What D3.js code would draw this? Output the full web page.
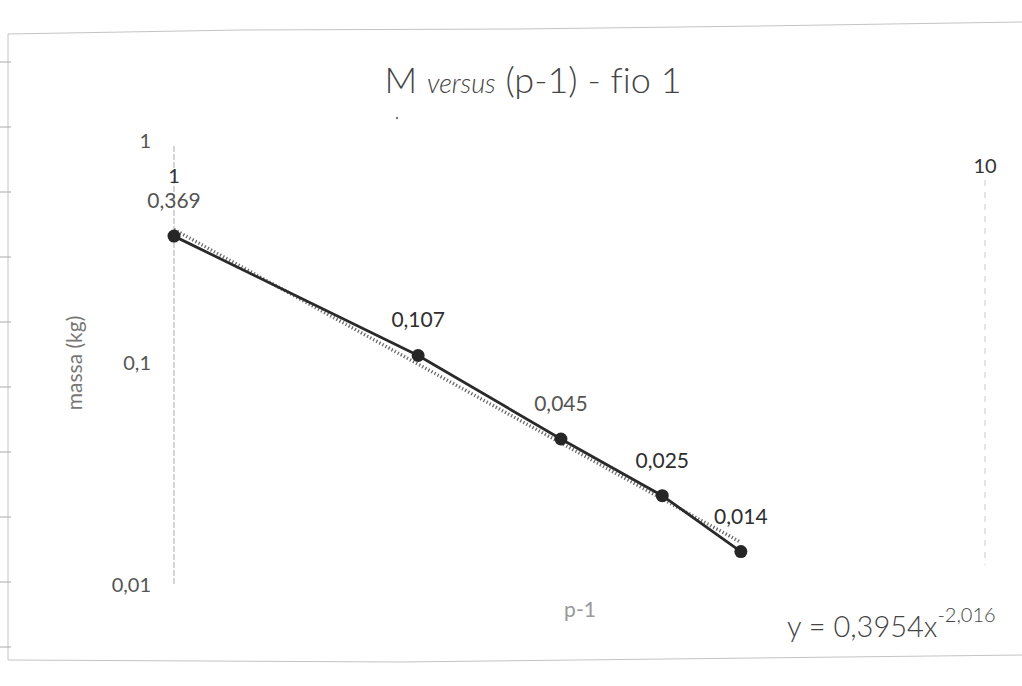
<!DOCTYPE html>
<html>
<head>
<meta charset="utf-8">
<script src="https://cdn.jsdelivr.net/npm/d3@7"></script>
<style>
  html, body { margin: 0; padding: 0; background: #fff; }
  svg { display: block; }
  text { font-family: Lato, "Open Sans", sans-serif; font-variant-ligatures: none; }
</style>
</head>
<body>
<svg id="chart" width="1022" height="686"></svg>
<script>
// p-1 values and measured mass (kg), fio 1
const pMinus1 = [1, 2, 3, 4, 5];
const massa = [0.369, 0.107, 0.045, 0.025, 0.014];
const massaLabels = ["0,369", "0,107", "0,045", "0,025", "0,014"];

// power-law trendline y = a * x^b
const trendA = 0.3954;
const trendB = -2.016;

const xTicks = [1, 10];
const xTickLabels = ["1", "10"];
const yTicks = [1, 0.1, 0.01];
const yTickLabels = ["1", "0,1", "0,01"];

const svg = d3.select("#chart");

const x = d3.scaleLog().domain([1, 10]).range([174, 985]);
const y = d3.scaleLog().domain([0.01, 1]).range([584, 140]);

// outer frame of the chart area
const frame = svg.append("g").attr("stroke", "#c4c4c4").attr("fill", "none");
frame.append("path").attr("d", "M8,34 L240,30 L520,29 L760,26 L1022,22");
frame.append("line").attr("x1", 8).attr("y1", 34).attr("x2", 8).attr("y2", 660);
frame.append("path").attr("d", "M8,660 L400,662 L1022,655");
d3.range(62, 660, 65).forEach(t => {
  frame.append("line").attr("x1", 0).attr("x2", 11).attr("y1", t).attr("y2", t).attr("stroke", "#aaa");
});

// vertical gridlines at x = 1 and x = 10
svg.append("line")
  .attr("x1", x(1)).attr("x2", x(1)).attr("y1", 146).attr("y2", 586)
  .attr("stroke", "#b8b8b8").attr("stroke-width", 1.2).attr("stroke-dasharray", "6,2");
svg.append("line")
  .attr("x1", x(10)).attr("x2", x(10)).attr("y1", 180).attr("y2", 565)
  .attr("stroke", "#d4d4d4").attr("stroke-width", 1.2).attr("stroke-dasharray", "6,6");

// title
const title = svg.append("text")
  .attr("x", 533).attr("y", 93).attr("text-anchor", "middle")
  .attr("fill", "#444").attr("font-size", 36).attr("font-weight", 300);
title.append("tspan").text("M ");
title.append("tspan").attr("font-style", "italic").attr("font-size", 27).text("versus");
title.append("tspan").text(" (p-1) - fio 1");
svg.append("circle").attr("cx", 397).attr("cy", 118).attr("r", 1.2).attr("fill", "#777");

// y tick labels
svg.append("g").selectAll("text").data(yTicks).join("text")
  .attr("x", 151).attr("y", d => y(d) + 8).attr("text-anchor", "end")
  .attr("font-size", 20).attr("fill", "#555")
  .text((d, i) => yTickLabels[i]);

// x tick labels
svg.append("g").selectAll("text").data(xTicks).join("text")
  .attr("x", d => x(d)).attr("y", (d, i) => i === 0 ? 183 : 173)
  .attr("text-anchor", "middle")
  .attr("font-size", 20).attr("fill", "#333")
  .text((d, i) => xTickLabels[i]);

// axis titles
svg.append("text")
  .attr("transform", "translate(82,363) rotate(-90)")
  .attr("text-anchor", "middle").attr("font-size", 21).attr("fill", "#777")
  .text("massa (kg)");
svg.append("text")
  .attr("x", 580).attr("y", 617).attr("text-anchor", "middle")
  .attr("font-size", 21).attr("fill", "#999")
  .text("p-1");

// trendline (dotted)
const trendX = d3.range(0, 1.0001, 0.01).map(t => Math.pow(5, t));
const trendPts = trendX.map(v => [v, trendA * Math.pow(v, trendB)]);
svg.append("path")
  .datum(trendPts)
  .attr("fill", "none").attr("stroke", "#6a6a6a").attr("stroke-width", 3.4)
  .attr("stroke-dasharray", "1.3,2.2")
  .attr("d", d3.line().x(d => x(d[0])).y(d => y(d[1])));

// data line
const pts = pMinus1.map((v, i) => [v, massa[i]]);
svg.append("path")
  .datum(pts)
  .attr("fill", "none").attr("stroke", "#2a2a2a").attr("stroke-width", 2.8)
  .attr("d", d3.line().x(d => x(d[0])).y(d => y(d[1])));

// markers
svg.append("g").selectAll("circle").data(pts).join("circle")
  .attr("cx", d => x(d[0])).attr("cy", d => y(d[1])).attr("r", 6.5)
  .attr("fill", "#262626");

// data labels
svg.append("g").selectAll("text").data(pts).join("text")
  .attr("x", d => x(d[0])).attr("y", d => y(d[1]) - 28)
  .attr("text-anchor", "middle").attr("font-size", 21)
  .attr("fill", (d, i) => (i === 0 || i === 2) ? "#555" : "#2e2e2e")
  .text((d, i) => massaLabels[i]);

// trendline equation
const eq = svg.append("text")
  .attr("x", 787).attr("y", 637).attr("font-size", 29).attr("fill", "#444").attr("font-weight", 300);
eq.append("tspan").text("y = 0,3954x");
eq.append("tspan").attr("font-size", 20).attr("dy", -15).text("-2,016");
</script>
</body>
</html>
